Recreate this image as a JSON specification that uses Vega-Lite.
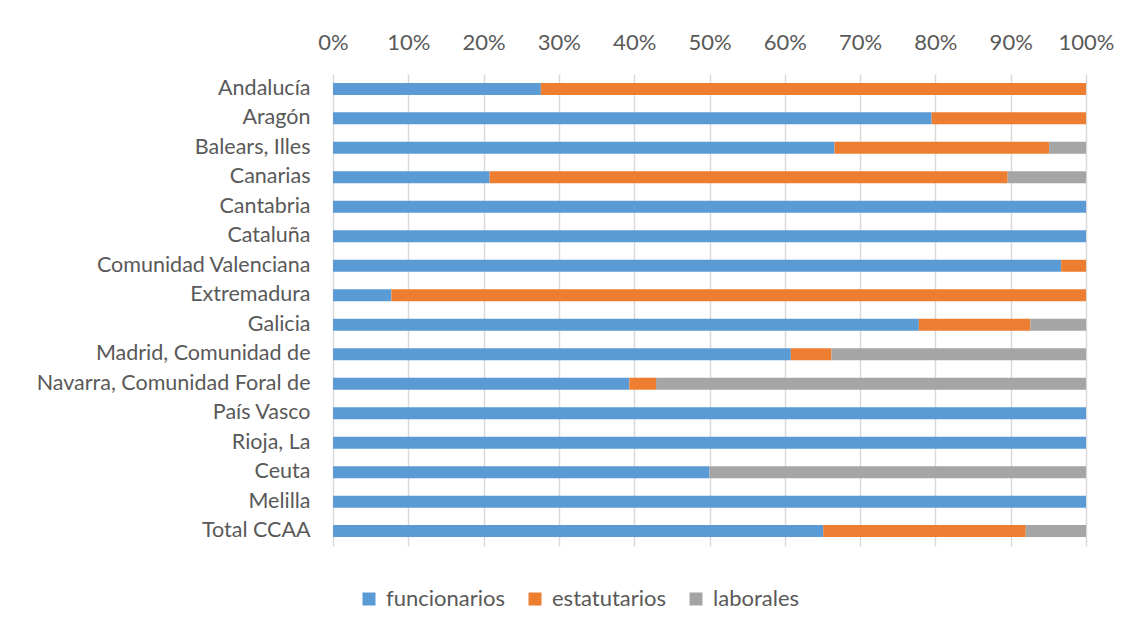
{
  "$schema": "https://vega.github.io/schema/vega-lite/v6.json",
  "width": 753,
  "height": 472,
  "autosize": {"type": "none"},
  "padding": {"left": 333, "top": 74, "right": 45, "bottom": 81},
  "background": "white",
  "data": {
    "values": [
      {"region": "Andalucía", "tipo": "funcionarios", "ord": 1, "value": 27.6},
      {"region": "Andalucía", "tipo": "estatutarios", "ord": 2, "value": 72.4},
      {"region": "Aragón", "tipo": "funcionarios", "ord": 1, "value": 79.5},
      {"region": "Aragón", "tipo": "estatutarios", "ord": 2, "value": 20.5},
      {"region": "Balears, Illes", "tipo": "funcionarios", "ord": 1, "value": 66.6},
      {"region": "Balears, Illes", "tipo": "estatutarios", "ord": 2, "value": 28.5},
      {"region": "Balears, Illes", "tipo": "laborales", "ord": 3, "value": 4.9},
      {"region": "Canarias", "tipo": "funcionarios", "ord": 1, "value": 20.8},
      {"region": "Canarias", "tipo": "estatutarios", "ord": 2, "value": 68.8},
      {"region": "Canarias", "tipo": "laborales", "ord": 3, "value": 10.4},
      {"region": "Cantabria", "tipo": "funcionarios", "ord": 1, "value": 100},
      {"region": "Cataluña", "tipo": "funcionarios", "ord": 1, "value": 100},
      {"region": "Comunidad Valenciana", "tipo": "funcionarios", "ord": 1, "value": 96.7},
      {"region": "Comunidad Valenciana", "tipo": "estatutarios", "ord": 2, "value": 3.3},
      {"region": "Extremadura", "tipo": "funcionarios", "ord": 1, "value": 7.75},
      {"region": "Extremadura", "tipo": "estatutarios", "ord": 2, "value": 92.25},
      {"region": "Galicia", "tipo": "funcionarios", "ord": 1, "value": 77.8},
      {"region": "Galicia", "tipo": "estatutarios", "ord": 2, "value": 14.8},
      {"region": "Galicia", "tipo": "laborales", "ord": 3, "value": 7.4},
      {"region": "Madrid, Comunidad de", "tipo": "funcionarios", "ord": 1, "value": 60.8},
      {"region": "Madrid, Comunidad de", "tipo": "estatutarios", "ord": 2, "value": 5.4},
      {"region": "Madrid, Comunidad de", "tipo": "laborales", "ord": 3, "value": 33.8},
      {"region": "Navarra, Comunidad Foral de", "tipo": "funcionarios", "ord": 1, "value": 39.35},
      {"region": "Navarra, Comunidad Foral de", "tipo": "estatutarios", "ord": 2, "value": 3.55},
      {"region": "Navarra, Comunidad Foral de", "tipo": "laborales", "ord": 3, "value": 57.1},
      {"region": "País Vasco", "tipo": "funcionarios", "ord": 1, "value": 100},
      {"region": "Rioja, La", "tipo": "funcionarios", "ord": 1, "value": 100},
      {"region": "Ceuta", "tipo": "funcionarios", "ord": 1, "value": 50},
      {"region": "Ceuta", "tipo": "laborales", "ord": 3, "value": 50},
      {"region": "Melilla", "tipo": "funcionarios", "ord": 1, "value": 100},
      {"region": "Total CCAA", "tipo": "funcionarios", "ord": 1, "value": 65.1},
      {"region": "Total CCAA", "tipo": "estatutarios", "ord": 2, "value": 26.9},
      {"region": "Total CCAA", "tipo": "laborales", "ord": 3, "value": 8.0}
    ]
  },
  "mark": {"type": "bar", "size": 12},
  "encoding": {
    "y": {
      "field": "region",
      "type": "nominal",
      "sort": ["Andalucía", "Aragón", "Balears, Illes", "Canarias", "Cantabria", "Cataluña", "Comunidad Valenciana", "Extremadura", "Galicia", "Madrid, Comunidad de", "Navarra, Comunidad Foral de", "País Vasco", "Rioja, La", "Ceuta", "Melilla", "Total CCAA"],
      "scale": {"paddingInner": 0.59, "paddingOuter": 0.3},
      "axis": {
        "title": null,
        "domain": false,
        "ticks": false,
        "grid": false,
        "labelPadding": 23,
        "labelLimit": 0,
        "labelFont": "Lato",
        "labelFontSize": 21.5,
        "labelColor": "#595959"
      }
    },
    "x": {
      "field": "value",
      "type": "quantitative",
      "stack": "normalize",
      "scale": {"domain": [0, 1], "nice": false},
      "axis": {
        "orient": "top",
        "title": null,
        "format": "%",
        "values": [0, 0.1, 0.2, 0.3, 0.4, 0.5, 0.6, 0.7, 0.8, 0.9, 1],
        "domain": false,
        "ticks": false,
        "grid": true,
        "gridColor": "#D9D9D9",
        "gridWidth": 1.5,
        "labelFlush": false,
        "labelPadding": 20,
        "labelFont": "Lato",
        "labelFontSize": 22,
        "labelColor": "#595959"
      }
    },
    "color": {
      "field": "tipo",
      "type": "nominal",
      "scale": {"domain": ["funcionarios", "estatutarios", "laborales"], "range": ["#5B9BD5", "#ED7D31", "#A5A5A5"]},
      "legend": {
        "title": null,
        "orient": "none",
        "direction": "horizontal",
        "legendX": 25,
        "legendY": 514,
        "symbolType": "square",
        "symbolSize": 169,
        "symbolStrokeWidth": 0,
        "symbolOpacity": 1,
        "labelFont": "Lato",
        "labelFontSize": 22,
        "labelColor": "#595959",
        "labelOffset": 6,
        "labelLimit": 0,
        "columnPadding": 18
      }
    },
    "order": {"field": "ord", "type": "quantitative"}
  },
  "config": {"view": {"stroke": null}}
}
